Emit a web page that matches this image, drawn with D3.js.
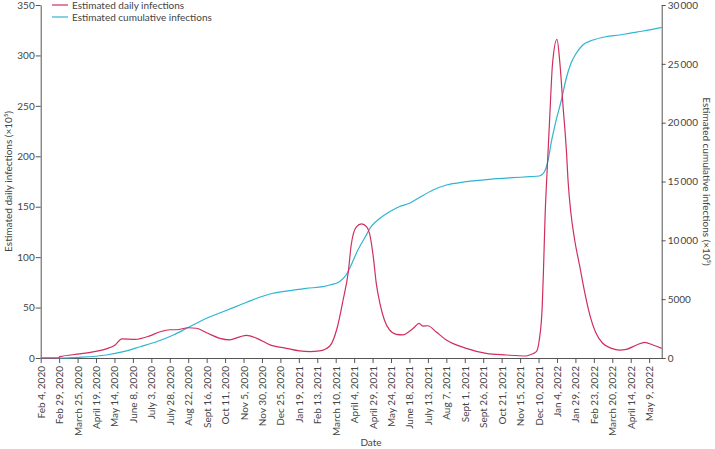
<!DOCTYPE html>
<html><head><meta charset="utf-8">
<script src="https://cdn.jsdelivr.net/npm/d3@7"></script>
<style>
html,body{margin:0;padding:0;background:#fff;}
svg{display:block;font-family:Lato,"Open Sans",sans-serif;}
</style></head>
<body><svg id="c" width="715" height="449"></svg>
<script>
const tickDates = ["2020-02-04","2020-02-29","2020-03-25","2020-04-19","2020-05-14","2020-06-08","2020-07-03","2020-07-28","2020-08-22","2020-09-16","2020-10-11","2020-11-05","2020-11-30","2020-12-25","2021-01-19","2021-02-13","2021-03-10","2021-04-04","2021-04-29","2021-05-24","2021-06-18","2021-07-13","2021-08-07","2021-09-01","2021-09-26","2021-10-21","2021-11-15","2021-12-10","2022-01-04","2022-01-29","2022-02-23","2022-03-20","2022-04-14","2022-05-09"];
const tickLabels = ["Feb 4, 2020","Feb 29, 2020","March 25, 2020","April 19, 2020","May 14, 2020","June 8, 2020","July 3, 2020","July 28, 2020","Aug 22, 2020","Sept 16, 2020","Oct 11, 2020","Nov 5, 2020","Nov 30, 2020","Dec 25, 2020","Jan 19, 2021","Feb 13, 2021","March 10, 2021","April 4, 2021","April 29, 2021","May 24, 2021","June 18, 2021","July 13, 2021","Aug 7, 2021","Sept 1, 2021","Sept 26, 2021","Oct 21, 2021","Nov 15, 2021","Dec 10, 2021","Jan 4, 2022","Jan 29, 2022","Feb 23, 2022","March 20, 2022","April 14, 2022","May 9, 2022"];
const leftTicks = [0,50,100,150,200,250,300,350];
const rightTicks = [0,5000,10000,15000,20000,25000,30000];

const dailyDates = ["2020-02-04","2020-02-28","2020-03-01","2020-03-28","2020-04-15","2020-05-03","2020-05-15","2020-05-24","2020-06-11","2020-07-01","2020-07-15","2020-07-28","2020-08-06","2020-08-22","2020-09-02","2020-09-16","2020-10-04","2020-10-17","2020-10-31","2020-11-09","2020-11-23","2020-12-11","2021-01-02","2021-01-20","2021-02-03","2021-02-16","2021-03-02","2021-03-12","2021-03-20","2021-03-27","2021-03-31","2021-04-07","2021-04-14","2021-04-21","2021-04-25","2021-04-30","2021-05-04","2021-05-09","2021-05-15","2021-05-22","2021-05-31","2021-06-09","2021-06-18","2021-06-24","2021-07-01","2021-07-06","2021-07-13","2021-07-24","2021-08-07","2021-09-03","2021-09-30","2021-10-27","2021-11-23","2021-11-28","2021-12-07","2021-12-11","2021-12-15","2021-12-17","2021-12-19","2021-12-21","2021-12-25","2021-12-29","2022-01-04","2022-01-08","2022-01-12","2022-01-17","2022-01-19","2022-01-23","2022-01-28","2022-02-04","2022-02-10","2022-02-17","2022-02-26","2022-03-07","2022-03-19","2022-03-30","2022-04-08","2022-04-22","2022-05-03","2022-05-14","2022-05-26"];
const dailyValues = [0,0,1.3,4,6,9,13,19,18.5,22,26,28,28,30,29.5,25,19.5,18,21,22.5,19.5,13,9.6,7,6.3,7,11.9,30,57.5,85,112,130,133,130,123,100,74,54,37.7,27.8,23.5,23,26.5,30,34.4,31.7,32,26,17.8,9.6,4.6,3,2,3,6.3,17.8,51,94,143,176,236,292,316,292,252,203,176,143,117,90.5,67.4,44.3,24.5,14.6,9.6,7.9,8.6,12.9,15.5,12.9,9.6];

const cumDates = ["2020-02-04","2020-02-28","2020-03-28","2020-05-03","2020-05-26","2020-06-18","2020-07-10","2020-08-02","2020-08-24","2020-09-16","2020-10-08","2020-10-31","2020-11-23","2020-12-15","2021-01-07","2021-01-29","2021-02-21","2021-03-02","2021-03-15","2021-03-24","2021-03-31","2021-04-09","2021-04-18","2021-04-27","2021-05-09","2021-05-22","2021-06-04","2021-06-18","2021-07-02","2021-07-20","2021-08-07","2021-09-03","2021-10-05","2021-11-05","2021-11-28","2021-12-11","2021-12-18","2021-12-23","2021-12-27","2022-01-03","2022-01-10","2022-01-16","2022-01-23","2022-01-30","2022-02-08","2022-02-22","2022-03-12","2022-03-30","2022-04-12","2022-05-01","2022-05-26"];
const cumValues = [0,0,60,255,535,960,1385,1955,2660,3374,3935,4504,5074,5500,5720,5924,6060,6204,6485,7054,7904,9178,10173,11159,11873,12433,12858,13147,13657,14278,14703,14983,15187,15323,15410,15467,15830,16827,18245,20227,21926,23626,25042,25892,26600,27025,27308,27450,27592,27790,28105];

const parse = d3.utcParse("%Y-%m-%d");
const svg = d3.select("#c");
const L = 40.7, R = 661.7, T = 5, B = 358;
const RED = "#cf2f5d", CYAN = "#2fb4d4", AX = "#555", TXT = "#444";

const x = d3.scaleUtc().domain([parse("2020-02-04"), parse("2022-05-26")]).range([L, R]);
const yL = d3.scaleLinear().domain([0,350]).range([B,T]);
const yR = d3.scaleLinear().domain([0,30000]).range([B,T]);

const daily = dailyDates.map((d,i)=>({d:parse(d), v:dailyValues[i]}));
const cum = cumDates.map((d,i)=>({d:parse(d), v:cumValues[i]}));

// axes
const xAxis = d3.axisBottom(x).tickValues(tickDates.map(parse)).tickFormat((d,i)=>tickLabels[i]).tickSize(5).tickSizeOuter(0);
const gx = svg.append("g").attr("transform",`translate(0,${B})`).call(xAxis);
gx.selectAll("text").attr("transform","rotate(-90)").attr("x",-8).attr("y",0).attr("dy","0.35em").style("text-anchor","end");

const gl = svg.append("g").attr("transform",`translate(${L},0)`).call(d3.axisLeft(yL).tickValues(leftTicks).tickSize(5).tickSizeOuter(0));
const gr = svg.append("g").attr("transform",`translate(${R},0)`).call(d3.axisRight(yR).tickValues(rightTicks).tickSize(4).tickSizeOuter(0).tickFormat(d=>d>=10000? d3.format("d")(d).replace(/(\d\d)(\d\d\d)$/,"$1\u2009$2"):String(d)));

[gx,gl,gr].forEach(g=>{
  g.selectAll("path.domain").attr("stroke",AX).attr("stroke-width",1);
  g.selectAll(".tick line").attr("stroke",AX);
  g.selectAll("text").attr("fill",TXT).style("font-size","10px").style("font-family","Lato,'Open Sans',sans-serif");
});
gl.selectAll("text").attr("x",-6);
gr.selectAll("text").attr("x",6);

// lines
const line = (ys)=>d3.line().x(p=>x(p.d)).y(p=>ys(p.v)).curve(d3.curveMonotoneX);
svg.append("path").datum(cum).attr("d",line(yR)).attr("fill","none").attr("stroke",CYAN).attr("stroke-width",1.2);
svg.append("path").datum(daily).attr("d",line(yL)).attr("fill","none").attr("stroke",RED).attr("stroke-width",1.2);

// axis titles
svg.append("text").attr("transform",`translate(12,${(T+B)/2}) rotate(-90)`).attr("text-anchor","middle")
  .attr("fill",TXT).style("font-size","10px").text("Estimated daily infections (×10⁵)");
svg.append("text").attr("transform",`translate(703,${(T+B)/2}) rotate(90)`).attr("text-anchor","middle")
  .attr("fill",TXT).style("font-size","10px").text("Estimated cumulative infections (×10⁵)");
svg.append("text").attr("x",371).attr("y",446).attr("text-anchor","middle").attr("fill",TXT).style("font-size","10px").text("Date");

// legend
const leg = [{t:"Estimated daily infections",c:RED},{t:"Estimated cumulative infections",c:CYAN}];
leg.forEach((l,i)=>{
  const yy = 5 + i*12;
  svg.append("line").attr("x1",52).attr("x2",68).attr("y1",yy).attr("y2",yy).attr("stroke",l.c).attr("stroke-width",1.2);
  svg.append("text").attr("x",72).attr("y",yy).attr("dy","0.35em").attr("fill",TXT).style("font-size","10px").text(l.t);
});
</script></body></html>
